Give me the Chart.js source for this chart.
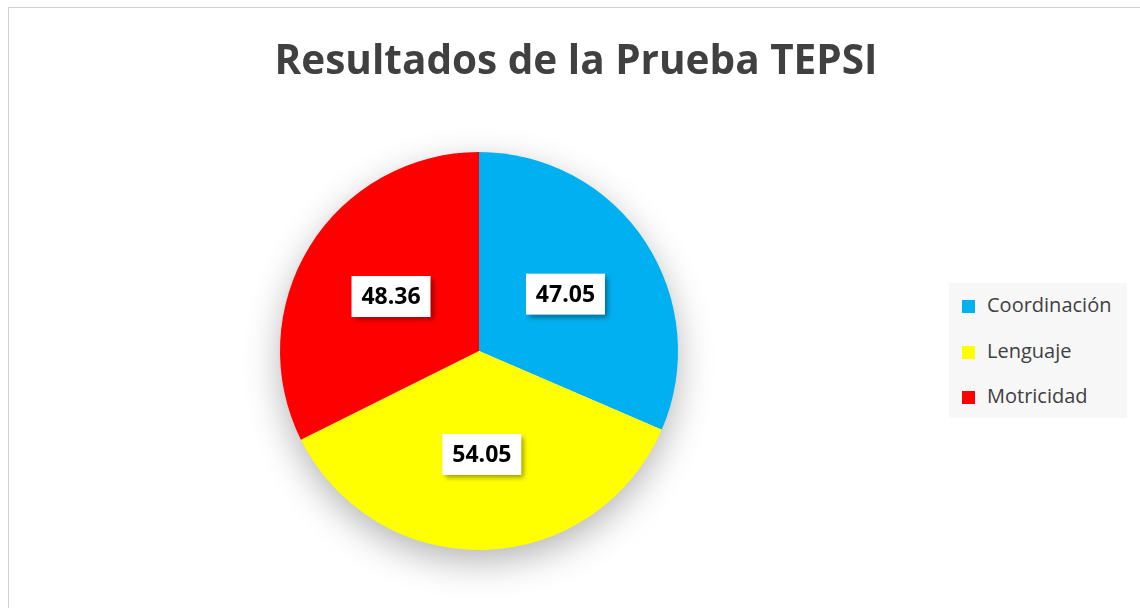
<!DOCTYPE html>
<html>
<head>
<meta charset="utf-8">
<script src="https://cdn.jsdelivr.net/npm/chart.js@4.4.1/dist/chart.umd.min.js"></script>
<style>
  body { margin: 0; background: #fff; width: 1140px; height: 608px; overflow: hidden; position: relative; font-family: "Open Sans", sans-serif; }
  #marco { position: absolute; left: 8px; top: 7px; width: 1140px; height: 620px; border: 1.5px solid #d0d0d0; box-sizing: border-box; }
  #grafico { position: absolute; left: 0; top: 0; }
  #titulo { position: absolute; left: 0; width: 1152px; top: 33px; text-align: center; font-weight: bold; font-size: 40.5px; color: #404040; line-height: 52px; }
  #leyenda { position: absolute; left: 949px; top: 283px; width: 178px; height: 135px; background: #f7f7f7; }
  .item { position: absolute; left: 13px; height: 24px; line-height: 24px; font-size: 20px; color: #404040; }
  .item span { display: inline-block; width: 13px; height: 13px; margin-right: 12px; vertical-align: -1px; }
</style>
</head>
<body>
<div id="marco"></div>
<canvas id="grafico" width="1140" height="608"></canvas>
<div id="titulo">Resultados de la Prueba TEPSI</div>
<div id="leyenda"></div>
<script>
let areas = ['Coordinación', 'Lenguaje', 'Motricidad']
let puntajes = [47.05, 54.05, 48.36]
let colores = ['#00B0F0', '#FFFF00', '#FF0000']

// leyenda a la derecha
let leyenda = document.getElementById('leyenda')
areas.forEach((nombre, i) => {
    let fila = document.createElement('div')
    fila.className = 'item'
    fila.style.top = (10 + i * 45.5) + 'px'
    fila.innerHTML = '<span style="background:' + colores[i] + '"></span>' + nombre
    leyenda.appendChild(fila)
})

// sombra suave del pastel: un circulo entero detras de las porciones
const sombraPastel = {
    id: 'sombraPastel',
    beforeDatasetsDraw(chart) {
        let ctx = chart.ctx
        let arc = chart.getDatasetMeta(0).data[0]
        if (!arc) return
        let p = arc.getProps(['x', 'y', 'outerRadius'], true)
        ctx.save()
        ctx.shadowColor = 'rgba(0,0,0,0.3)'
        ctx.shadowBlur = 36
        ctx.shadowOffsetY = 12
        ctx.fillStyle = '#ffffff'
        ctx.beginPath()
        ctx.arc(p.x, p.y, p.outerRadius - 1, 0, Math.PI * 2)
        ctx.fill()
        ctx.restore()
    }
}

// etiquetas con caja blanca
const etiquetas = {
    id: 'etiquetas',
    afterDatasetsDraw(chart) {
        let ctx = chart.ctx
        let meta = chart.getDatasetMeta(0)
        meta.data.forEach((arc, i) => {
            let p = arc.getProps(['x', 'y', 'startAngle', 'endAngle', 'outerRadius'], true)
            let ang = (p.startAngle + p.endAngle) / 2
            let r = p.outerRadius * 0.52
            let x = p.x + Math.cos(ang) * r
            let y = p.y + Math.sin(ang) * r
            ctx.save()
            ctx.shadowColor = 'rgba(0,0,0,0.4)'
            ctx.shadowBlur = 5
            ctx.shadowOffsetX = 3
            ctx.shadowOffsetY = 3
            ctx.fillStyle = '#ffffff'
            ctx.fillRect(x - 39.5, y - 20.5, 79, 41)
            ctx.restore()
            ctx.fillStyle = '#000000'
            ctx.font = 'bold 23px "Open Sans"'
            ctx.textAlign = 'center'
            ctx.textBaseline = 'middle'
            ctx.fillText(puntajes[i].toFixed(2), x, y + 1)
        })
    }
}

let grafico = document.getElementById('grafico').getContext('2d')

new Chart(grafico, {
    type: 'pie',
    data: {
        labels: areas,
        datasets: [{
            data: puntajes,
            backgroundColor: colores,
            borderWidth: 0,
            hoverOffset: 0
        }]
    },
    options: {
        responsive: false,
        animation: false,
        layout: {
            padding: { left: 280, right: 462, top: 152, bottom: 58 }
        },
        plugins: {
            legend: { display: false },
            title: { display: false },
            tooltip: { enabled: false }
        }
    },
    plugins: [sombraPastel, etiquetas]
})
</script>
</body>
</html>
